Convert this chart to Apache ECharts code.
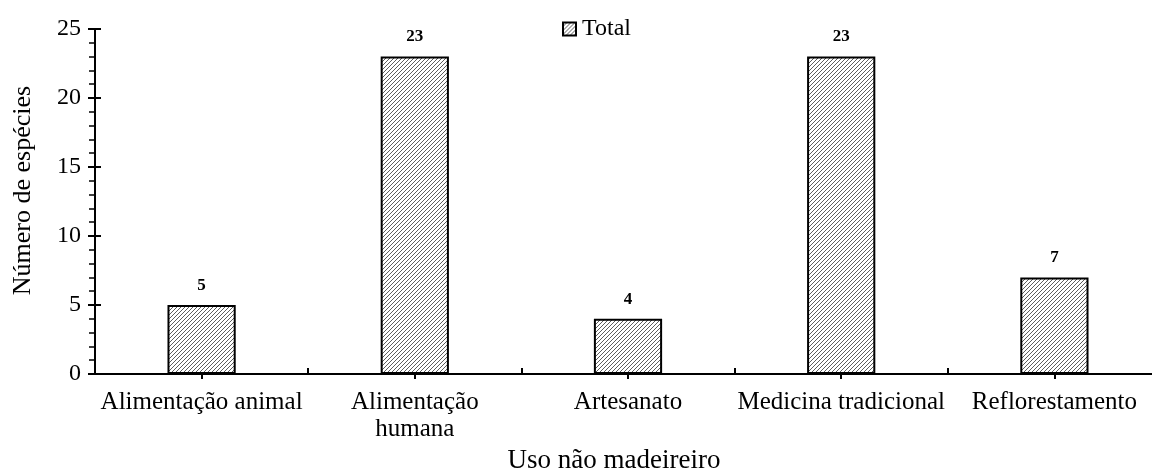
<!DOCTYPE html>
<html><head><meta charset="utf-8">
<script src="https://cdn.jsdelivr.net/npm/echarts@6/dist/echarts.min.js"></script>
<style>html,body{margin:0;padding:0;background:#fff}#c{width:1152px;height:468px}</style>
</head><body><div id="c"></div>
<script>
const categories = ['Alimentação animal', 'Alimentação\nhumana', 'Artesanato', 'Medicina tradicional', 'Reflorestamento'];
const totals = [5, 23, 4, 23, 7];
const seriesName = 'Total';
const yTicks = [0, 5, 10, 15, 20, 25];

function hatch() {
  const c = document.createElement('canvas');
  c.width = 4; c.height = 4;
  const g = c.getContext('2d');
  g.fillStyle = '#fff'; g.fillRect(0, 0, 4, 4);
  g.strokeStyle = '#333'; g.lineWidth = 0.8;
  g.beginPath();
  g.moveTo(0, 4); g.lineTo(4, 0);
  g.moveTo(-1, 1); g.lineTo(1, -1);
  g.moveTo(3, 5); g.lineTo(5, 3);
  g.stroke();
  return c;
}
const pat = { image: hatch(), repeat: 'repeat' };
const font = 'Liberation Serif';
const chart = echarts.init(document.getElementById('c'), null, { renderer: 'canvas' });
chart.setOption({
  animation: false,
  textStyle: { fontFamily: font, color: '#000' },
  grid: { left: 95, right: -9, top: 29, bottom: 94, containLabel: false, outerBoundsMode: 'none' },
  legend: {
    data: [seriesName], top: 12, left: 557, itemWidth: 13, itemHeight: 13, itemGap: 4,
    textStyle: { fontFamily: font, fontSize: 24, color: '#000', padding: [0, 0, 0, 1] },
    icon: 'rect'
  },
  xAxis: [{
    type: 'category', data: categories,
    name: 'Uso não madeireiro', nameLocation: 'middle', nameGap: 63,
    nameTextStyle: { fontFamily: font, fontSize: 27, color: '#000', padding: [0, 28, 0, 0] },
    axisLine: { lineStyle: { color: '#000', width: 2 } },
    axisTick: { show: true, inside: true, length: 6, lineStyle: { color: '#000', width: 2 } },
    axisLabel: { fontFamily: font, fontSize: 25, color: '#000', margin: 15, lineHeight: 27, interval: 0 }
  }, {
    type: 'category', data: categories, position: 'bottom',
    axisLine: { show: false },
    axisTick: { show: true, alignWithLabel: true, length: 5, lineStyle: { color: '#000', width: 2 } },
    axisLabel: { show: false }
  }],
  yAxis: [{
    type: 'value', min: 0, max: 25, interval: 5,
    name: 'Número de espécies', nameLocation: 'middle', nameGap: 59,
    nameTextStyle: { fontFamily: font, fontSize: 26, color: '#000', padding: [0, 0, 0, 22] },
    axisLine: { show: true, lineStyle: { color: '#000', width: 2 } },
    axisTick: { show: true, length: 7, lineStyle: { color: '#000', width: 2 } },
    minorTick: { show: true, splitNumber: 5, length: 6, lineStyle: { color: '#000', width: 1.5 } },
    splitLine: { show: false },
    axisLabel: { fontFamily: font, fontSize: 24, color: '#000', margin: 14,
      formatter: v => yTicks.includes(v) ? String(v) : '' }
  }, {
    type: 'value', min: 0, max: 25, interval: 5, position: 'left',
    axisLine: { show: false },
    axisTick: { show: true, inside: true, length: 6, lineStyle: { color: '#000', width: 2 } },
    splitLine: { show: false },
    axisLabel: { show: false }
  }],
  series: [{
    name: seriesName, type: 'bar', data: totals, barWidth: '32%',
    itemStyle: { color: pat, borderColor: '#000', borderWidth: 2 },
    label: { show: true, position: 'top', distance: 11, fontFamily: font, fontWeight: 'bold', fontSize: 17, color: '#000' }
  }]
});
</script></body></html>
